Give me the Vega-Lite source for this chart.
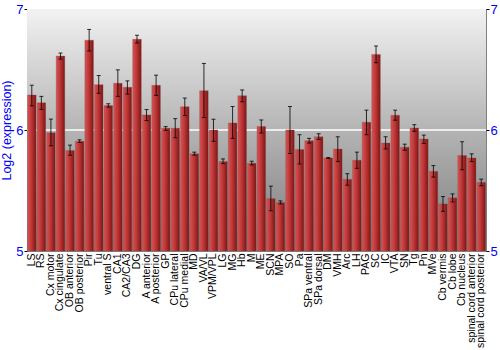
{
  "$schema": "https://vega.github.io/schema/vega-lite/v6.json",
  "width": 459,
  "height": 242,
  "autosize": "none",
  "padding": {"left": 27, "top": 9, "right": 14, "bottom": 99},
  "background": "white",
  "config": {
    "view": {"stroke": "#808080", "strokeWidth": 1},
    "font": "Liberation Sans"
  },
  "datasets": {
    "expr": [
      {"region": "LS", "v": 6.289, "lo": 6.20, "hi": 6.37},
      {"region": "RS", "v": 6.225, "lo": 6.17, "hi": 6.278},
      {"region": "Cx motor", "v": 5.978, "lo": 5.87, "hi": 6.09},
      {"region": "Cx cingulate", "v": 6.611, "lo": 6.586, "hi": 6.636},
      {"region": "OB anterior", "v": 5.831, "lo": 5.792, "hi": 5.875},
      {"region": "OB posterior", "v": 5.908, "lo": 5.897, "hi": 5.919},
      {"region": "Pir", "v": 6.742, "lo": 6.653, "hi": 6.831},
      {"region": "Tu", "v": 6.375, "lo": 6.303, "hi": 6.45},
      {"region": "ventral S", "v": 6.203, "lo": 6.189, "hi": 6.217},
      {"region": "CA1", "v": 6.386, "lo": 6.278, "hi": 6.497},
      {"region": "CA2/CA3", "v": 6.353, "lo": 6.297, "hi": 6.406},
      {"region": "DG", "v": 6.75, "lo": 6.719, "hi": 6.783},
      {"region": "A anterior", "v": 6.125, "lo": 6.078, "hi": 6.169},
      {"region": "A posterior", "v": 6.369, "lo": 6.286, "hi": 6.453},
      {"region": "GP", "v": 6.014, "lo": 5.997, "hi": 6.028},
      {"region": "CPu lateral", "v": 6.014, "lo": 5.936, "hi": 6.094},
      {"region": "CPu medial", "v": 6.192, "lo": 6.119, "hi": 6.264},
      {"region": "MD", "v": 5.803, "lo": 5.792, "hi": 5.817},
      {"region": "VA/VL", "v": 6.325, "lo": 6.103, "hi": 6.55},
      {"region": "VPM/VPL", "v": 6.0, "lo": 5.906, "hi": 6.089},
      {"region": "LG", "v": 5.739, "lo": 5.722, "hi": 5.761},
      {"region": "MG", "v": 6.058, "lo": 5.931, "hi": 6.194},
      {"region": "Hb", "v": 6.283, "lo": 6.233, "hi": 6.331},
      {"region": "M", "v": 5.725, "lo": 5.711, "hi": 5.742},
      {"region": "ME", "v": 6.028, "lo": 5.975, "hi": 6.083},
      {"region": "SCN", "v": 5.433, "lo": 5.333, "hi": 5.536},
      {"region": "MPA", "v": 5.4, "lo": 5.389, "hi": 5.414},
      {"region": "SO", "v": 6.0, "lo": 5.806, "hi": 6.194},
      {"region": "Pa", "v": 5.839, "lo": 5.719, "hi": 5.961},
      {"region": "SPa ventral", "v": 5.911, "lo": 5.892, "hi": 5.931},
      {"region": "SPa dorsal", "v": 5.944, "lo": 5.922, "hi": 5.969},
      {"region": "DM", "v": 5.769, "lo": 5.766, "hi": 5.772},
      {"region": "VMH", "v": 5.842, "lo": 5.739, "hi": 5.944},
      {"region": "Arc", "v": 5.592, "lo": 5.544, "hi": 5.639},
      {"region": "LH", "v": 5.75, "lo": 5.683, "hi": 5.817},
      {"region": "PAG", "v": 6.064, "lo": 5.961, "hi": 6.164},
      {"region": "SC", "v": 6.625, "lo": 6.556, "hi": 6.694},
      {"region": "IC", "v": 5.892, "lo": 5.844, "hi": 5.944},
      {"region": "VTA", "v": 6.122, "lo": 6.081, "hi": 6.164},
      {"region": "SN", "v": 5.858, "lo": 5.833, "hi": 5.883},
      {"region": "Tg", "v": 6.017, "lo": 5.989, "hi": 6.044},
      {"region": "Pn", "v": 5.925, "lo": 5.889, "hi": 5.958},
      {"region": "MVe", "v": 5.658, "lo": 5.611, "hi": 5.706},
      {"region": "Cb vermis", "v": 5.389, "lo": 5.328, "hi": 5.45},
      {"region": "Cb lobe", "v": 5.439, "lo": 5.406, "hi": 5.472},
      {"region": "Cb nucleus", "v": 5.789, "lo": 5.672, "hi": 5.903},
      {"region": "spinal cord anterior", "v": 5.769, "lo": 5.739, "hi": 5.803},
      {"region": "spinal cord posterior", "v": 5.567, "lo": 5.539, "hi": 5.594}
    ]
  },
  "layer": [
    {
      "data": {"values": [{"k": 1}]},
      "mark": {
        "type": "rect",
        "color": {
          "gradient": "linear", "x1": 0, "y1": 0, "x2": 0, "y2": 1,
          "stops": [
            {"offset": 0, "color": "#f2f2f2"},
            {"offset": 0.5, "color": "#b4b4b4"},
            {"offset": 1, "color": "#7c7c7c"}
          ]
        }
      },
      "encoding": {}
    },
    {
      "data": {"values": [{"g": 6}]},
      "mark": {"type": "rule", "color": "white", "strokeWidth": 1.5},
      "encoding": {
        "y": {"field": "g", "type": "quantitative", "scale": {"domain": [5, 7], "zero": false}, "axis": null}
      }
    },
    {
      "data": {"name": "expr"},
      "layer": [
        {
          "mark": {
            "type": "bar",
            "color": {
              "gradient": "linear", "x1": 0, "y1": 0, "x2": 1, "y2": 0,
              "stops": [
                {"offset": 0, "color": "#d45555"},
                {"offset": 0.45, "color": "#c03636"},
                {"offset": 1, "color": "#7a1616"}
              ]
            },
            "stroke": "#8a4a4a",
            "strokeWidth": 0.5,
            "strokeOpacity": 0.6
          },
          "encoding": {
            "x": {
              "field": "region", "type": "nominal", "sort": null,
              "scale": {"paddingInner": 0.1, "paddingOuter": 0.05},
              "axis": {
                "title": null, "labelAngle": -90, "labelFontSize": 10.5, "labelColor": "black",
                "labelFont": "Liberation Sans", "ticks": false, "domain": false, "labelPadding": 2,
                "labelAlign": "right", "labelBaseline": "middle", "labelLimit": 200
              }
            },
            "y": {
              "field": "v", "type": "quantitative",
              "scale": {"domain": [5, 7], "zero": false, "nice": false, "clamp": true},
              "axis": {
                "title": "Log2 (expression)", "titleColor": "#0000ff", "titleFontSize": 12.5,
                "titleFontWeight": "normal", "titleFont": "Liberation Sans", "titlePadding": 2,
                "tickCount": 2, "labelColor": "#0000ff", "labelFontSize": 13,
                "labelFont": "Liberation Sans", "tickColor": "black", "tickSize": 3, "domain": false,
                "grid": false, "labelPadding": 1, "labelOverlap": false, "labelFlush": false
              }
            },
            "y2": {"datum": 5}
          }
        },
        {
          "mark": {"type": "rule", "color": "black", "strokeWidth": 1, "opacity": 0.8},
          "encoding": {
            "x": {"field": "region", "type": "nominal", "sort": null},
            "y": {"field": "lo", "type": "quantitative"},
            "y2": {"field": "hi"}
          }
        },
        {
          "mark": {"type": "tick", "color": "black", "size": 4, "thickness": 1, "opacity": 0.8, "orient": "horizontal"},
          "encoding": {
            "x": {"field": "region", "type": "nominal", "sort": null},
            "y": {"field": "lo", "type": "quantitative"}
          }
        },
        {
          "mark": {"type": "tick", "color": "black", "size": 4, "thickness": 1, "opacity": 0.8, "orient": "horizontal"},
          "encoding": {
            "x": {"field": "region", "type": "nominal", "sort": null},
            "y": {"field": "hi", "type": "quantitative"}
          }
        }
      ]
    },
    {
      "data": {"values": [{"g": 6}]},
      "mark": {"type": "rule", "opacity": 0},
      "encoding": {
        "y": {
          "field": "g", "type": "quantitative",
          "axis": {
            "orient": "right", "title": null, "tickCount": 2,
            "labelColor": "#0000ff", "labelFontSize": 13, "labelFont": "Liberation Sans",
            "tickColor": "black", "tickSize": 3, "domain": false, "grid": false, "labelPadding": 1,
            "labelOverlap": false, "labelFlush": false
          }
        }
      }
    }
  ],
  "resolve": {"axis": {"y": "independent"}}
}
